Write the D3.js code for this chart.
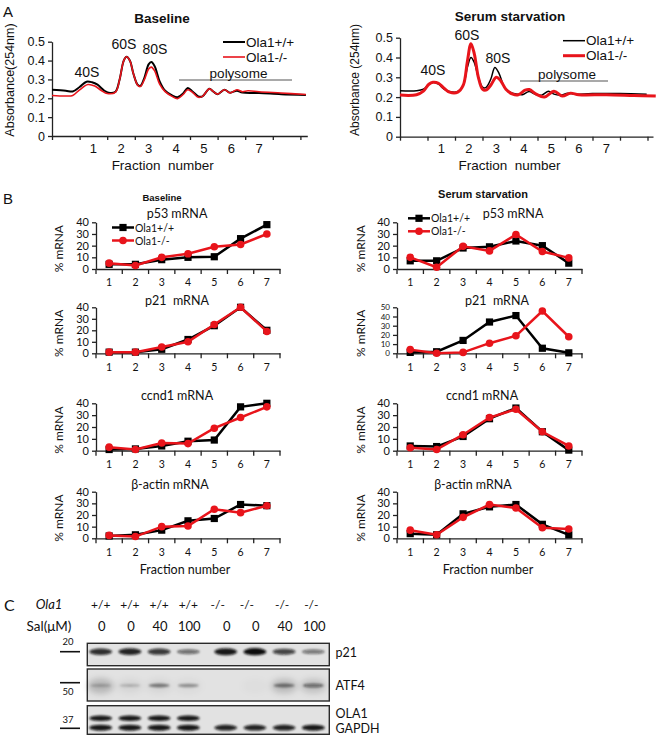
<!DOCTYPE html>
<html><head><meta charset="utf-8">
<script src="https://cdn.jsdelivr.net/npm/d3@7"></script>
<style>
body{margin:0;background:#fff;}
svg{display:block;}
</style></head><body>
<svg id="fig" width="660" height="742"></svg>
<script>
// ================= DATA =================
// Panel A: absorbance profiles, [position on fraction axis, absorbance]
const profileTickLabels = [1, 2, 3, 4, 5, 6, 7];
const absorbanceTicks = [0, 0.1, 0.2, 0.3, 0.4, 0.5];
const peakLabels = ["40S", "60S", "80S"];
const seriesNames = ["Ola1+/+", "Ola1-/-"];

const baselineWT = [[0,0.245],[0.5,0.240],[0.75,0.236],[1.0,0.26],[1.25,0.288],[1.45,0.285],[1.65,0.272],[1.9,0.24],[2.1,0.228],[2.3,0.235],[2.45,0.30],[2.6,0.40],[2.7,0.42],[2.82,0.40],[2.95,0.33],[3.1,0.272],[3.2,0.265],[3.35,0.31],[3.5,0.38],[3.6,0.392],[3.72,0.37],[3.9,0.29],[4.1,0.24],[4.35,0.215],[4.55,0.205],[4.75,0.225],[4.92,0.255],[5.1,0.235],[5.3,0.21],[5.45,0.21],[5.7,0.25],[5.85,0.235],[6.0,0.222],[6.25,0.245],[6.45,0.23],[6.7,0.24],[6.9,0.23],[7.5,0.228],[8.3,0.222],[9.2,0.218]];
const baselineKO = [[0,0.215],[0.5,0.212],[0.75,0.215],[1.0,0.245],[1.3,0.273],[1.55,0.265],[1.8,0.24],[2.0,0.225],[2.3,0.233],[2.45,0.30],[2.6,0.40],[2.7,0.42],[2.82,0.40],[2.95,0.33],[3.1,0.27],[3.2,0.262],[3.35,0.30],[3.5,0.355],[3.6,0.365],[3.72,0.345],[3.9,0.275],[4.1,0.235],[4.35,0.21],[4.55,0.198],[4.75,0.22],[4.92,0.245],[5.1,0.23],[5.3,0.205],[5.45,0.21],[5.7,0.25],[5.85,0.235],[6.0,0.222],[6.25,0.245],[6.45,0.228],[6.7,0.245],[6.9,0.235],[7.1,0.24],[7.5,0.235],[8.3,0.228],[9.2,0.22]];
const starvationWT = [[0,0.232],[0.6,0.232],[0.85,0.24],[1.05,0.265],[1.2,0.275],[1.4,0.265],[1.6,0.24],[1.8,0.228],[2.1,0.228],[2.3,0.26],[2.45,0.35],[2.58,0.40],[2.7,0.375],[2.85,0.30],[3.0,0.25],[3.12,0.248],[3.3,0.29],[3.45,0.35],[3.6,0.32],[3.8,0.25],[4.0,0.225],[4.25,0.215],[4.45,0.212],[4.7,0.228],[4.9,0.215],[5.15,0.21],[5.4,0.23],[5.6,0.215],[5.85,0.21],[6.1,0.22],[6.35,0.215],[7,0.218],[8,0.218],[8.97,0.215]];
const starvationKO = [[0,0.21],[0.6,0.212],[0.85,0.23],[1.05,0.265],[1.2,0.275],[1.4,0.27],[1.6,0.245],[1.8,0.225],[2.1,0.225],[2.3,0.26],[2.45,0.38],[2.58,0.47],[2.7,0.42],[2.85,0.30],[3.0,0.24],[3.12,0.235],[3.3,0.26],[3.5,0.30],[3.65,0.285],[3.85,0.24],[4.1,0.215],[4.3,0.212],[4.55,0.235],[4.7,0.238],[4.95,0.215],[5.25,0.20],[5.6,0.23],[5.9,0.205],[6.2,0.22],[6.5,0.212],[7.5,0.212],[8.5,0.208],[9.3,0.205]];

// Panel B: % mRNA per fraction
const fractions = [1, 2, 3, 4, 5, 6, 7];
const pctTicks40 = [0, 10, 20, 30, 40];
const pctTicks50 = [0, 10, 20, 30, 40, 50];
const baseP53WT   = [4, 4, 8, 10, 10.5, 26, 38];
const baseP53KO   = [5, 3, 10, 13, 19, 21, 30];
const baseP21WT   = [1, 1, 3.5, 12, 24, 40, 20];
const baseP21KO   = [1, 1, 5.5, 10, 25, 40, 19];
const baseCcnd1WT = [1, 1.5, 4, 8, 9, 37, 40];
const baseCcnd1KO = [3, 1, 6.5, 6, 19, 28, 37];
const baseActinWT = [2, 3, 7, 15, 17, 29, 28];
const baseActinKO = [2.5, 1.5, 10, 10.5, 25, 22, 28];
const starvP53WT   = [7, 7, 18, 19, 24, 20, 5];
const starvP53KO   = [10, 1.5, 19.5, 15.5, 29.5, 15, 9.5];
const starvP21WT   = [1, 1.7, 14, 34, 41, 5.5, 0.5];
const starvP21KO   = [4, 0, 1, 11, 19, 46, 18];
const starvCcnd1WT = [4, 3.5, 12, 27, 36, 16, 0.5];
const starvCcnd1KO = [2.5, 1, 13.5, 28, 35, 16, 4];
const starvActinWT = [4, 3, 21, 27, 29, 12, 3];
const starvActinKO = [7, 3, 18, 29, 26, 9, 8];
const geneTitles = ["p53 mRNA", "p21  mRNA", "ccnd1 mRNA", "β-actin mRNA"];

// Panel C: western blot
const laneGenotype = ["+/+", "+/+", "+/+", "+/+", "-/-", "-/-", "-/-", "-/-"];
const laneSal = ["0", "0", "40", "100", "0", "0", "40", "100"];
const p21Signal   = [0.85, 0.9, 0.8, 0.55, 0.95, 1.0, 0.75, 0.5];
const atf4Signal  = [0.2, 0.2, 0.45, 0.35, 0, 0, 0.45, 0.5];
const atf4Smear   = [0.2, 0.06, 0.06, 0.04, 0, 0.02, 0.18, 0.15];
const ola1Signal  = [0.95, 0.95, 0.95, 0.95, 0, 0, 0, 0];
const gapdhSignal = [0.95, 0.95, 0.95, 0.95, 0.9, 0.9, 0.9, 0.95];
const markerSizes = ["20", "50", "37"];
const blotLabels = ["p21", "ATF4", "OLA1", "GAPDH"];

// ================= DRAWING =================
const svg = d3.select("#fig");
const ARIAL = "'Liberation Sans', Arial, sans-serif";
const CAL = "Lato, 'Noto Sans', sans-serif";
const RED = "#e8141b";
const INK = "#111";

svg.append("rect").attr("width", 660).attr("height", 742).attr("fill", "#fff");
const defs = svg.append("defs");
function blur(id, sd) {
  defs.append("filter").attr("id", id).attr("x", "-60%").attr("y", "-200%").attr("width", "220%").attr("height", "500%")
    .append("feGaussianBlur").attr("stdDeviation", sd);
}
blur("b1", 1.0); blur("b3", 3.2);

function txt(g, s, x, y, opts = {}) {
  return g.append("text").attr("x", x).attr("y", y).text(s)
    .attr("font-family", opts.font || ARIAL).attr("font-size", opts.size || 13)
    .attr("font-weight", opts.weight || "normal").attr("font-style", opts.style || "normal")
    .attr("text-anchor", opts.anchor || "middle").attr("dominant-baseline", "central")
    .attr("fill", opts.fill || INK).style("white-space", "pre");
}
function styleAxis(sel, font, size) {
  sel.select(".domain").attr("stroke", "#222").attr("stroke-width", 1.3);
  sel.selectAll(".tick line").attr("stroke", "#222").attr("stroke-width", 1.3);
  sel.selectAll("text").attr("font-family", font).attr("font-size", size).attr("fill", INK);
}

// Panel letters
txt(svg, "A", 3, 11, {size: 15, anchor: "start"});
txt(svg, "B", 3, 198, {size: 15, anchor: "start"});
txt(svg, "C", 4, 604, {size: 16, anchor: "start", font: CAL});

// ---------- Panel A ----------
function drawProfile(o) {
  const g = svg.append("g");
  const x = d3.scaleLinear().domain([0, o.xMax]).range([o.left, o.right]);
  const y = d3.scaleLinear().domain([0, 0.5]).range([o.bottom, o.top]);
  g.append("g").attr("transform", `translate(0,${o.bottom})`)
    .call(d3.axisBottom(x).tickValues(d3.range(0, 10)).tickFormat("").tickSize(4).tickSizeOuter(0))
    .call(s => styleAxis(s, ARIAL, 13));
  g.append("g").selectAll("text").data(profileTickLabels).join("text")
    .attr("x", d => x(d + 0.5)).attr("y", o.bottom + 12).text(d => d)
    .attr("font-family", ARIAL).attr("font-size", 13).attr("text-anchor", "middle")
    .attr("dominant-baseline", "central").attr("fill", INK);
  g.append("g").attr("transform", `translate(${o.left},0)`)
    .call(d3.axisLeft(y).tickValues(absorbanceTicks).tickFormat(d => d === 0 ? "0" : d.toFixed(1)).tickSize(4).tickSizeOuter(0).tickPadding(3))
    .call(s => styleAxis(s, ARIAL, 12.5));
  txt(g, "Fraction  number", (o.left + o.right) / 2 - 17, o.bottom + 29, {size: 13.5});
  txt(g, o.ylabel, 0, 0, {size: o.ylabelSize}).attr("transform", `translate(${o.ylabelX},${o.ylabelY}) rotate(-90)`);
  txt(g, o.title, o.titleX, o.titleY, {size: 13.5, weight: "bold"});
  const line = d3.line().x(d => x(d[0])).y(d => y(d[1])).curve(d3.curveCatmullRom.alpha(0.5));
  g.append("path").datum(o.wt).attr("d", line).attr("fill", "none").attr("stroke", "#000").attr("stroke-width", o.wtW);
  g.append("path").datum(o.ko).attr("d", line).attr("fill", "none").attr("stroke", RED).attr("stroke-width", o.koW);
  // peak labels
  o.peaks.forEach((p, i) => txt(g, peakLabels[i], p[0], p[1], {size: 14}));
  // polysome
  g.append("line").attr("x1", o.poly[0]).attr("x2", o.poly[1]).attr("y1", o.poly[2]).attr("y2", o.poly[2]).attr("stroke", "#555").attr("stroke-width", 1.2);
  txt(g, "polysome", (o.poly[0] + o.poly[1]) / 2 + 3, o.poly[2] - 6.5, {size: 13.5});
  // legend
  [["#000", o.wtW], [RED, o.koW]].forEach((c, i) => {
    const ly = o.leg[1] + i * 15;
    g.append("line").attr("x1", o.leg[0]).attr("x2", o.leg[0] + 22).attr("y1", ly).attr("y2", ly).attr("stroke", c[0]).attr("stroke-width", c[1]);
    txt(g, seriesNames[i], o.leg[0] + 23, ly, {size: 13.5, anchor: "start"});
  });
}
drawProfile({left: 52, right: 307.3, xMax: 9.25, top: 41.7, bottom: 136,
  wt: baselineWT, ko: baselineKO, wtW: 2, koW: 1.6,
  title: "Baseline", titleX: 162, titleY: 18,
  ylabel: "Absorbance(254nm)", ylabelX: 10, ylabelY: 80, ylabelSize: 12.5,
  peaks: [[87, 72], [124, 44], [155, 49]], poly: [179, 292, 80], leg: [223, 42]});
drawProfile({left: 400, right: 653, xMax: 9.2, top: 37.7, bottom: 136.7,
  wt: starvationWT, ko: starvationKO, wtW: 1.5, koW: 3,
  title: "Serum starvation", titleX: 510, titleY: 16,
  ylabel: "Absorbance (254nm)", ylabelX: 355, ylabelY: 80, ylabelSize: 12,
  peaks: [[433, 70], [467, 35], [498, 58]], poly: [520, 608, 81], leg: [563, 40.7]});

// ---------- Panel B ----------
function drawMrna(o) {
  const g = svg.append("g");
  const x = d3.scaleBand().domain(fractions).range([o.left, o.right]);
  const y = d3.scaleLinear().domain([0, o.yMax]).range([o.bottom, o.top]);
  g.append("g").attr("transform", `translate(${o.left},0)`)
    .call(d3.axisLeft(y).tickValues(o.ticks).tickSize(4).tickSizeOuter(0).tickPadding(3))
    .call(s => styleAxis(s, CAL, o.yMax === 50 ? 8 : 11));
  g.append("g").attr("transform", `translate(0,${o.bottom})`)
    .call(d3.axisBottom(x).tickSize(0).tickSizeOuter(0).tickPadding(10))
    .call(s => styleAxis(s, CAL, 10.5));
  g.selectAll("line.bt").data(fractions.map(f => x(f)).concat([o.right])).join("line").attr("class", "bt")
    .attr("x1", d => d).attr("x2", d => d).attr("y1", o.bottom).attr("y2", o.bottom + 5)
    .attr("stroke", "#222").attr("stroke-width", 1.3);
  txt(g, o.title, o.titleX, o.titleY, {font: CAL, size: 12.5});
  txt(g, "% mRNA", 0, 0, {font: CAL, size: 12}).attr("transform", `translate(${o.ylabX},${(o.top + o.bottom) / 2 + 3}) rotate(-90)`);
  const cx = f => x(f) + x.bandwidth() / 2;
  const line = d3.line().x((d, i) => cx(fractions[i])).y(d => y(d));
  g.append("path").datum(o.wt).attr("d", line).attr("fill", "none").attr("stroke", "#000").attr("stroke-width", 2.5);
  g.selectAll("rect.m").data(o.wt).join("rect").attr("class", "m")
    .attr("x", (d, i) => cx(fractions[i]) - 3.6).attr("y", d => y(d) - 3.6).attr("width", 7.2).attr("height", 7.2).attr("fill", "#000");
  g.append("path").datum(o.ko).attr("d", line).attr("fill", "none").attr("stroke", RED).attr("stroke-width", 2.5);
  g.selectAll("circle.m").data(o.ko).join("circle").attr("class", "m")
    .attr("cx", (d, i) => cx(fractions[i])).attr("cy", d => y(d)).attr("r", 3.8).attr("fill", RED);
  if (o.leg) {
    [0, 1].forEach(i => {
      const ly = o.leg[1] + i * 13;
      g.append("line").attr("x1", o.leg[0]).attr("x2", o.leg[0] + 22).attr("y1", ly).attr("y2", ly)
        .attr("stroke", i ? RED : "#000").attr("stroke-width", 2.5);
      if (i) g.append("circle").attr("cx", o.leg[0] + 11).attr("cy", ly).attr("r", 3.8).attr("fill", RED);
      else g.append("rect").attr("x", o.leg[0] + 7.4).attr("y", ly - 3.6).attr("width", 7.2).attr("height", 7.2).attr("fill", "#000");
      txt(g, seriesNames[i], o.leg[0] + 23, ly, {font: CAL, size: 10.5, anchor: "start"});
    });
  }
}
const rowsY = [[222.3, 269], [307.3, 353.3], [403.3, 450.7], [491.7, 538.3]];
const titleY = [213.5, 300, 395, 484];
const leftTitleX = [177, 177, 177, 170];
const rightTitleX = [513, 497, 482, 473];
const baseSets = [[baseP53WT, baseP53KO], [baseP21WT, baseP21KO], [baseCcnd1WT, baseCcnd1KO], [baseActinWT, baseActinKO]];
const starvSets = [[starvP53WT, starvP53KO], [starvP21WT, starvP21KO], [starvCcnd1WT, starvCcnd1KO], [starvActinWT, starvActinKO]];
baseSets.forEach((s, r) => drawMrna({left: 96, right: 280, top: rowsY[r][0], bottom: rowsY[r][1], yMax: 40, ticks: pctTicks40,
  wt: s[0], ko: s[1], title: geneTitles[r], titleX: leftTitleX[r], titleY: titleY[r], ylabX: 58,
  leg: r === 0 ? [112, 227.5] : null}));
starvSets.forEach((s, r) => drawMrna({left: 397, right: 582, top: rowsY[r][0], bottom: rowsY[r][1],
  yMax: r === 1 ? 50 : 40, ticks: r === 1 ? pctTicks50 : pctTicks40,
  wt: s[0], ko: s[1], title: geneTitles[r], titleX: rightTitleX[r], titleY: titleY[r], ylabX: 360,
  leg: r === 0 ? [408, 218.3] : null}));
txt(svg, "Baseline", 162, 197, {size: 9.5, weight: "bold"});
txt(svg, "Serum starvation", 483, 194, {size: 11, weight: "bold"});
txt(svg, "Fraction number", 185, 569, {font: CAL, size: 12.5});
txt(svg, "Fraction number", 488, 569, {font: CAL, size: 12.5});

// ---------- Panel C ----------
const gc = svg.append("g");
const laneScale = d3.scaleLinear().domain([0, 7.28]).range([100.7, 313.3]);
const laneX = i => laneScale(i + (i >= 4 ? 0.28 : 0));
txt(gc, "Ola1", 49, 604, {font: CAL, size: 13, style: "italic"});
txt(gc, "Sal(μM)", 49, 626, {font: CAL, size: 13.5});
gc.selectAll("text.gt").data(laneGenotype).join("text").attr("class", "gt")
  .attr("x", (d, i) => laneX(i) + (d === "-/-" ? (i < 6 ? -8 : -2) : 0)).attr("y", 604).text(d => d)
  .attr("font-family", CAL).attr("font-size", 12).attr("text-anchor", "middle").attr("dominant-baseline", "central").attr("fill", INK);
gc.selectAll("text.sal").data(laneSal).join("text").attr("class", "sal")
  .attr("x", (d, i) => laneX(i) + 1).attr("y", 626).text(d => d)
  .attr("font-family", CAL).attr("font-size", 13).attr("text-anchor", "middle").attr("dominant-baseline", "central").attr("fill", INK);

const blotBoxes = [[643.3, 665.7], [669, 701], [705.7, 734.3]];
blotBoxes.forEach(b => gc.append("rect").attr("x", 87.3).attr("y", b[0]).attr("width", 242).attr("height", b[1] - b[0])
  .attr("fill", "#e2e2e2").attr("stroke", "#2a2a2a").attr("stroke-width", 1.4));

function bands(signal, cy, rx, ryBase, ryGain, filter) {
  gc.append("g").attr("filter", `url(#${filter})`).selectAll("ellipse").data(signal).join("ellipse")
    .attr("cx", (d, i) => laneX(i)).attr("cy", cy).attr("rx", rx)
    .attr("ry", d => ryBase + ryGain * d).attr("fill", "#0d0d0d").attr("opacity", d => d);
}
bands(p21Signal, 651.7, 11.5, 1.2, 2.4, "b1");
bands(atf4Smear, 686, 13, 7, 2, "b3");
bands(atf4Signal, 685.5, 10.5, 1.2, 1.6, "b1");
bands(ola1Signal, 718.3, 11.5, 1.6, 1.2, "b1");
bands(gapdhSignal, 727.7, 11.5, 1.8, 1.2, "b1");

// size markers
const markerY = [[641, 651.7], [691.7, 682.7], [719, 728.3]];
markerSizes.forEach((m, i) => {
  txt(gc, m, 68, markerY[i][0], {font: CAL, size: 9.5});
  gc.append("line").attr("x1", 60).attr("x2", 80).attr("y1", markerY[i][1]).attr("y2", markerY[i][1]).attr("stroke", "#111").attr("stroke-width", 1.6);
});
const blotLabelY = [652, 685, 713.5, 728.5];
blotLabels.forEach((l, i) => txt(gc, l, 335.5, blotLabelY[i], {font: CAL, size: 12.5, anchor: "start"}));
</script>
</body></html>
